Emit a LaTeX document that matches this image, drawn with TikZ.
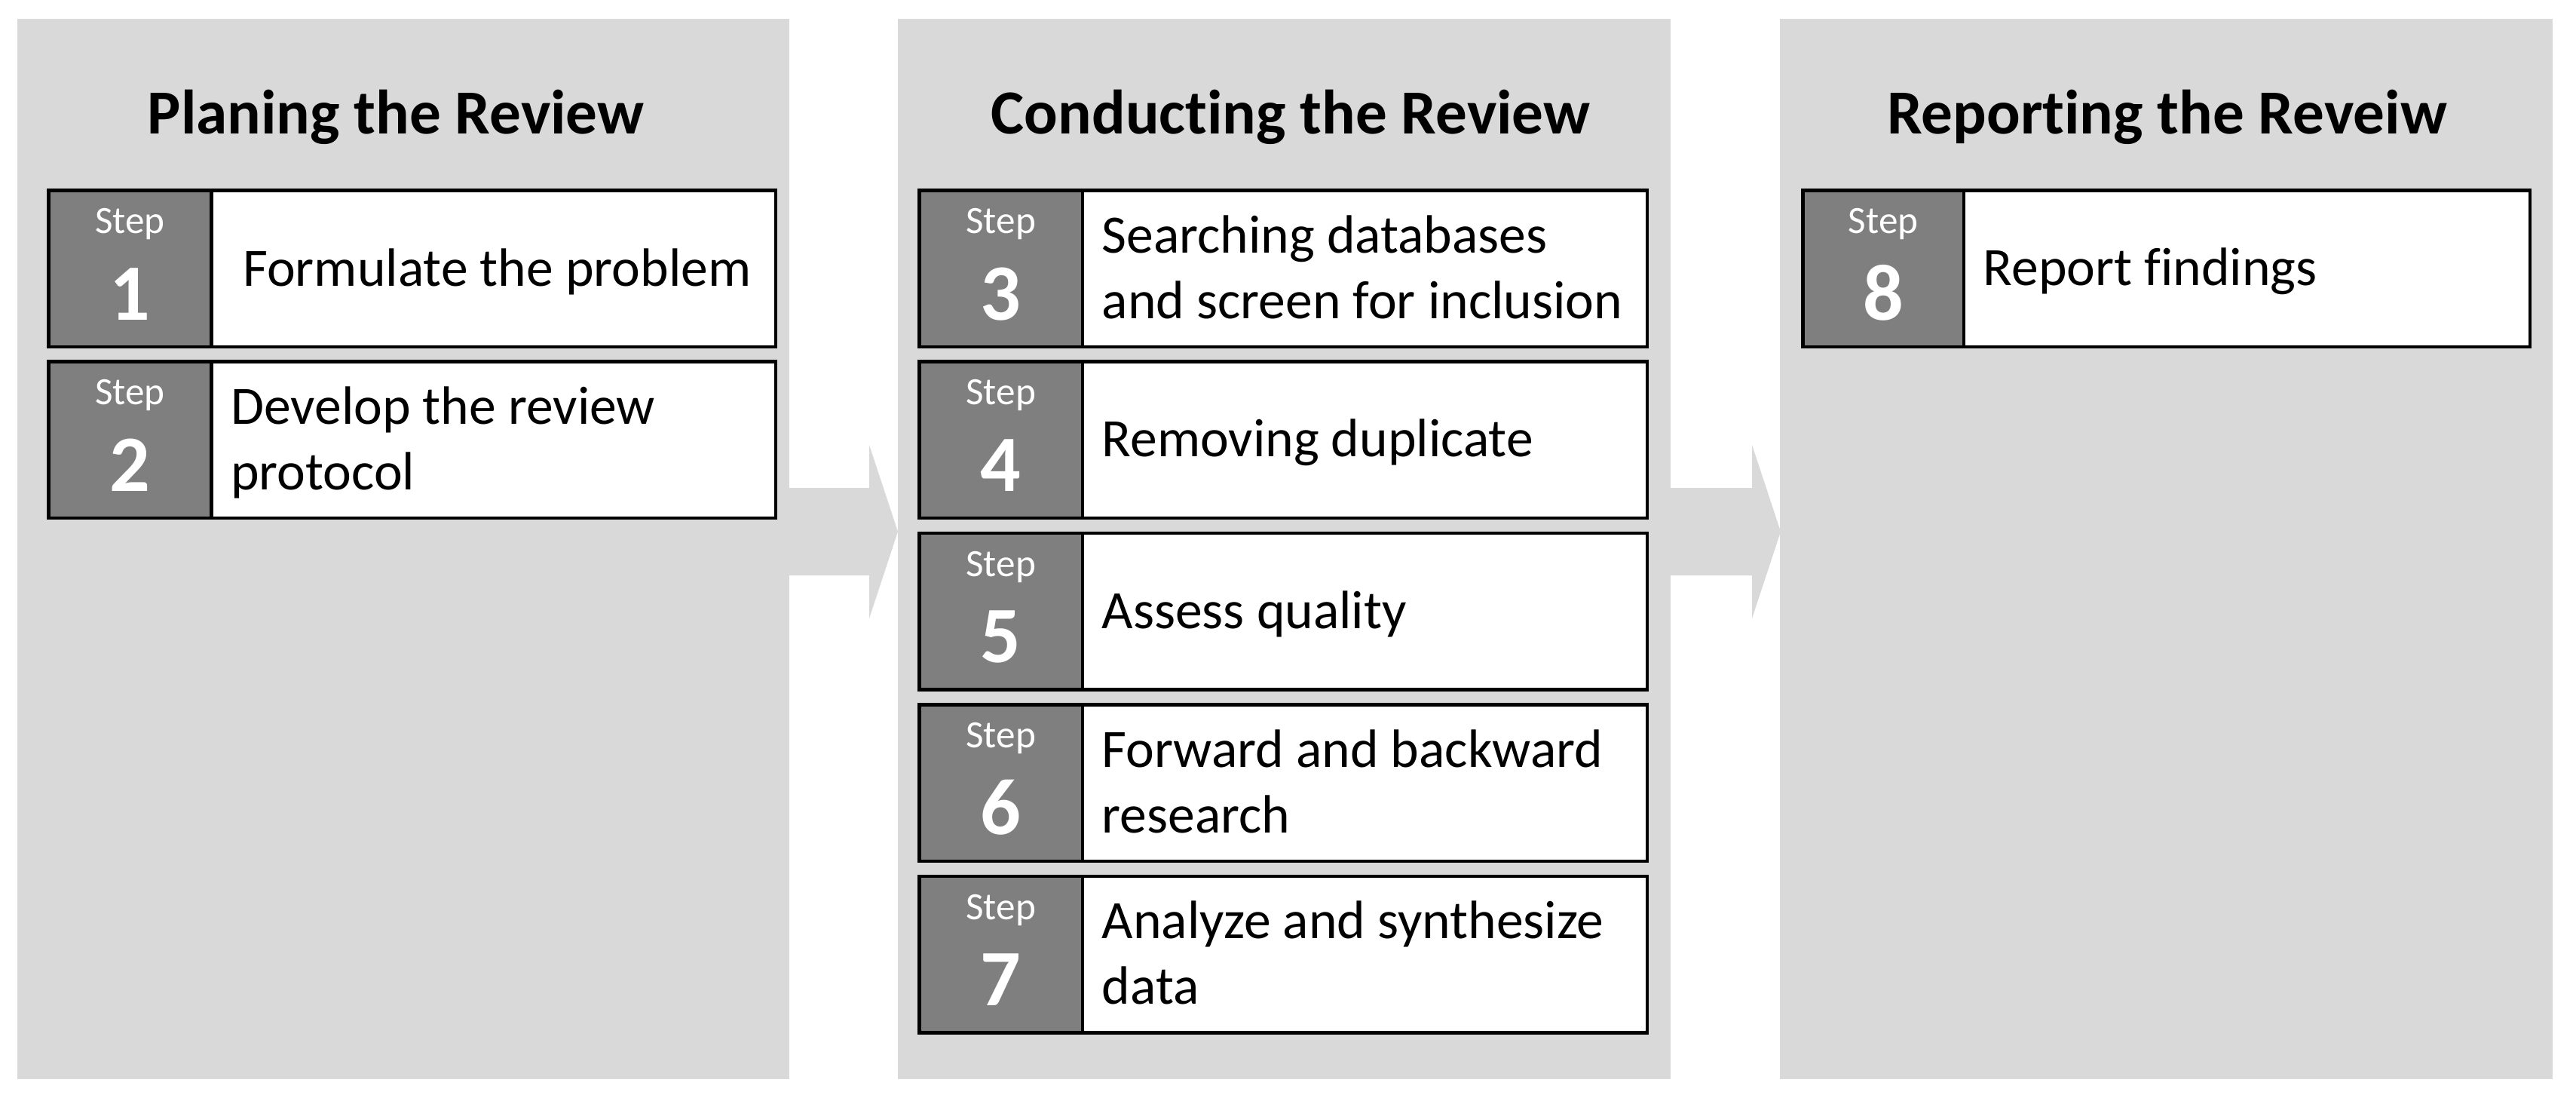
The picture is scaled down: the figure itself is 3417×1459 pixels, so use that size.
\documentclass[tikz,border=0pt]{standalone}
\usepackage{fontspec}
\setmainfont{Carlito}[Ligatures=NoCommon]
\definecolor{panelgray}{RGB}{217,217,217}
\definecolor{stepgray}{RGB}{127,127,127}
\tikzset{
  panel/.style={fill=panelgray},
  flowarrow/.style={fill=panelgray},
  stepcell/.style={fill=stepgray},
  textcell/.style={fill=white},
  boxline/.style={draw=black, line width=1.125pt},
  title/.style={anchor=base, inner sep=0pt, font=\fontsize{20.8}{25}\selectfont\bfseries},
  steplabel/.style={anchor=base, inner sep=0pt, text=white, font=\fontsize{12.8}{15}\selectfont},
  stepnum/.style={anchor=base, inner sep=0pt, text=white, font=\fontsize{26.5}{30}\selectfont\bfseries},
  stepdesc/.style={anchor=base west, inner sep=0pt, align=left, font=\fontsize{17.9}{21.75}\selectfont}
}
% #1 name, #2 left, #3 divider, #4 right, #5 top, #6 number, #7 text, #8 baseline offset (last line)
\newcommand\StepRow[8]{%
  \fill[stepcell] (#2,#5+2.25) rectangle (#3,#5+209.75);
  \fill[textcell] (#3,#5+2.25) rectangle (#4,#5+209.75);
  \draw[boxline] (#2,#5+2.25) rectangle (#4,#5+209.75);
  \draw[boxline] (#3,#5+2.25) -- (#3,#5+209.75);
  \node[steplabel] (#1s) at ({(#2+#3)/2},#5+59.5) {Step};
  \node[stepnum] (#1n) at ({(#2+#3)/2},#5+174) {#6};
  \node[stepdesc] (#1t) at (#3+25,#5+#8) {#7};
}
\begin{document}
\begin{tikzpicture}[x=0.25pt,y=-0.25pt]
\fill[white] (0,0) rectangle (3417,1459);
\useasboundingbox (0,0) rectangle (3417,1459);
% arrows between panels
\fill[flowarrow] (1040,647) -- (1153,647) -- (1153,590) -- (1191,705) -- (1153,820) -- (1153,763) -- (1040,763) -- cycle;
\fill[flowarrow] (2210,647) -- (2324,647) -- (2324,590) -- (2362,705) -- (2324,820) -- (2324,763) -- (2210,763) -- cycle;
% panels
\fill[panel] (23,25) rectangle (1047,1431);
\fill[panel] (1191,25) rectangle (2216,1431);
\fill[panel] (2361,25) rectangle (3386,1431);
% titles
\node[title] (t1) at (525,177) {Planing the Review};
\node[title] (t2) at (1712,177) {Conducting the Review};
\node[title] (t3) at (2874.5,177) {Reporting the Reveiw};
% panel 1
\StepRow{a}{64.25}{280.5}{1028.75}{250}{1}{\hspace*{4pt}Formulate the problem}{129.5}
\StepRow{b}{64.25}{280.5}{1028.75}{477.4}{2}{Develop the review\\protocol}{172}
% panel 2
\StepRow{c}{1219.25}{1436}{2184.75}{250}{3}{Searching databases\\and screen for inclusion}{172}
\StepRow{d}{1219.25}{1436}{2184.75}{477.4}{4}{Removing duplicate}{128.5}
\StepRow{e}{1219.25}{1436}{2184.75}{704.8}{5}{Assess quality}{128.5}
\StepRow{f}{1219.25}{1436}{2184.75}{932.2}{6}{Forward and backward\\research}{172}
\StepRow{g}{1219.25}{1436}{2184.75}{1159.6}{7}{Analyze and synthesize\\data}{172}
% panel 3
\StepRow{h}{2391.25}{2605}{3355.75}{250}{8}{Report findings}{128.5}
\end{tikzpicture}
\end{document}
